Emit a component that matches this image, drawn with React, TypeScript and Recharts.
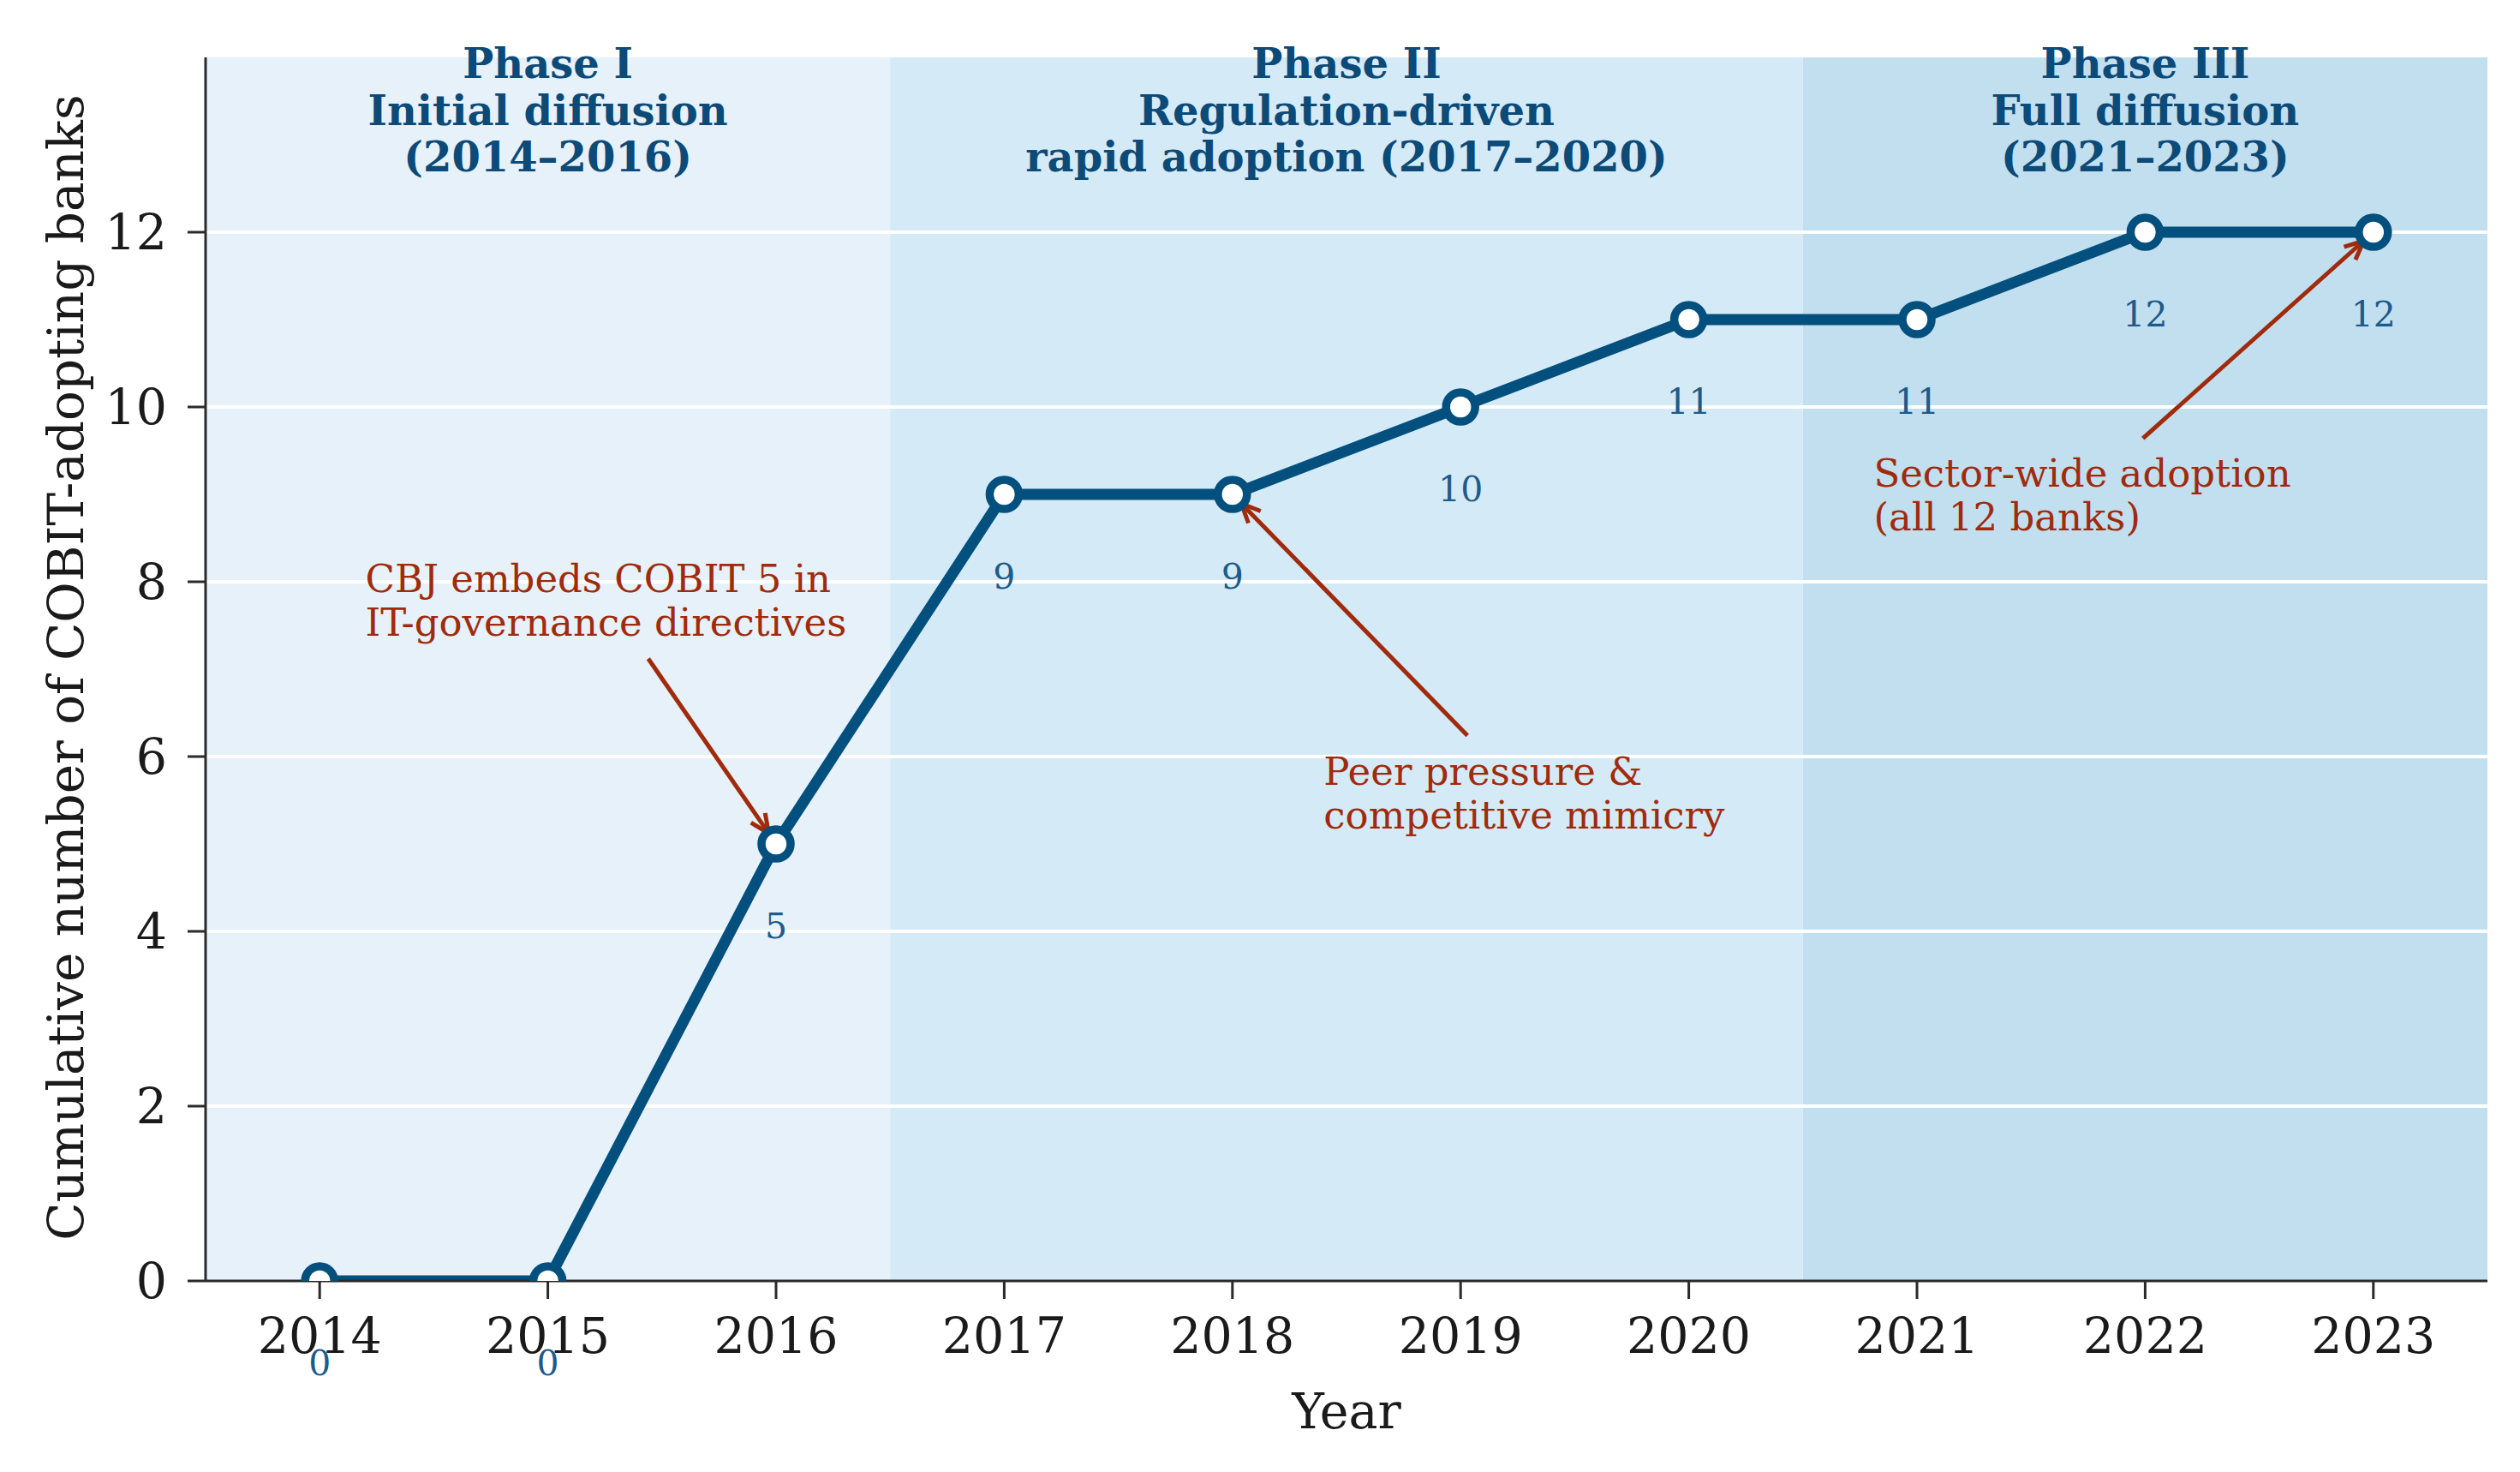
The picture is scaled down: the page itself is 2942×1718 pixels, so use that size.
import React from "react";
import {
  LineChart,
  Line,
  XAxis,
  YAxis,
  ReferenceArea,
  ReferenceLine,
  ReferenceDot,
  LabelList,
} from "recharts";

const years = [2014, 2015, 2016, 2017, 2018, 2019, 2020, 2021, 2022, 2023];
const adopters = [0, 0, 5, 9, 9, 10, 11, 11, 12, 12];
const yTicks = [0, 2, 4, 6, 8, 10, 12];
const gridValues = [2, 4, 6, 8, 10, 12];

const phaseStarts = [2013.5, 2016.5, 2020.5];
const phaseEnds = [2016.5, 2020.5, 2023.5];
const phaseTitles = [
  ["Phase I", "Initial diffusion", "(2014–2016)"],
  ["Phase II", "Regulation-driven", "rapid adoption (2017–2020)"],
  ["Phase III", "Full diffusion", "(2021–2023)"],
];
const phaseFills = ["#e6f1fa", "#d5eaf7", "#c2dff0"];

// annotation text anchor (left edge, first line), arrow tail and the point it targets
const notes = [
  {
    lines: ["CBJ embeds COBIT 5 in", "IT-governance directives"],
    textAt: [2014.2, 8.04],
    tail: [2015.44, 7.12],
    head: [2016, 5],
  },
  {
    lines: ["Peer pressure &", "competitive mimicry"],
    textAt: [2018.4, 5.83],
    tail: [2019.03, 6.24],
    head: [2018, 9],
  },
  {
    lines: ["Sector-wide adoption", "(all 12 banks)"],
    textAt: [2020.81, 9.25],
    tail: [2021.99, 9.64],
    head: [2023, 12],
  },
];

const data = years.map((year, i) => ({ year, adopters: adopters[i] }));

const W = 2942;
const H = 1718;
const FONT = "'DejaVu Serif', serif";
const LINE = "#03507f";
const NOTE = "#a02b0c";
const PLOT_LEFT = 240;
const PLOT_RIGHT = 2904;
const PLOT_TOP = 67;
const PLOT_BOTTOM = 1495;

// the line and its markers are clipped to the axes box, like the original
const clipCss = `
path.recharts-line-curve { clip-path: url(#plot-box); }
`;

const Arrow = (props: any) => {
  const { x1, y1, x2, y2 } = props;
  const dx = x2 - x1;
  const dy = y2 - y1;
  const len = Math.hypot(dx, dy) || 1;
  const ux = dx / len;
  const uy = dy / len;
  const ex = x2 - ux * 15;
  const ey = y2 - uy * 15;
  const hl = 22;
  const hw = 10;
  const bx = ex - ux * hl;
  const by = ey - uy * hl;
  return (
    <g>
      <line x1={x1} y1={y1} x2={ex} y2={ey} stroke={NOTE} strokeWidth={5} />
      <polyline
        points={`${bx - uy * hw},${by + ux * hw} ${ex},${ey} ${bx + uy * hw},${by - ux * hw}`}
        fill="none"
        stroke={NOTE}
        strokeWidth={5}
      />
    </g>
  );
};

const Marker = (p: any) => (
  <g key={`m${p.index}`} clipPath="url(#plot-box)">
    <circle cx={p.cx} cy={p.cy} r={17} fill="#ffffff" stroke={LINE} strokeWidth={9.5} />
  </g>
);

const noteText = (lines: string[]) => (p: any) => (
  <text
    x={p.cx}
    y={p.cy}
    fill={NOTE}
    fontSize={45}
    fontFamily={FONT}
    dominantBaseline="central"
  >
    {lines.map((l, i) => (
      <tspan key={i} x={p.cx} dy={i === 0 ? 0 : 51}>
        {l}
      </tspan>
    ))}
  </text>
);

const phaseText = (lines: string[]) => (p: any) => (
  <text
    x={p.cx}
    y={p.cy + 7}
    fill="#0c4a78"
    fontSize={48}
    fontWeight="bold"
    fontFamily={FONT}
    textAnchor="middle"
    dominantBaseline="central"
  >
    {lines.map((l, i) => (
      <tspan key={i} x={p.cx} dy={i === 0 ? 0 : 54.5}>
        {l}
      </tspan>
    ))}
  </text>
);

const valueLabel = (p: any) => (
  <text
    x={p.x}
    y={p.y + 96}
    fill="#1d5b8a"
    fontSize={41}
    fontFamily={FONT}
    textAnchor="middle"
    dominantBaseline="central"
  >
    {p.value}
  </text>
);

export default function App() {
  return (
    <div style={{ position: "absolute", left: 0, top: 0, background: "#fff" }}>
      <style>{clipCss}</style>
      <svg width={0} height={0} style={{ position: "absolute", left: 0, top: 0 }}>
        <defs>
          <clipPath id="plot-box" clipPathUnits="userSpaceOnUse">
            <rect
              x={PLOT_LEFT}
              y={PLOT_TOP}
              width={PLOT_RIGHT - PLOT_LEFT}
              height={PLOT_BOTTOM - PLOT_TOP}
            />
          </clipPath>
        </defs>
      </svg>
      <LineChart
        width={W}
        height={H}
        data={data}
        margin={{ top: PLOT_TOP, right: W - PLOT_RIGHT, bottom: 0, left: 0 }}
      >
        <XAxis
          dataKey="year"
          type="number"
          domain={[2013.5, 2023.5]}
          allowDataOverflow
          ticks={years}
          interval={0}
          height={H - PLOT_BOTTOM}
          tickSize={21}
          tickMargin={23}
          axisLine={{ stroke: "#2a2a2a", strokeWidth: 3 }}
          tickLine={{ stroke: "#2a2a2a", strokeWidth: 3 }}
          tick={{ fill: "#1a1a1a", fontSize: 57, fontFamily: FONT }}
          label={{
            content: () => (
              <text
                x={1572}
                y={1647}
                fill="#1a1a1a"
                fontSize={57}
                fontFamily={FONT}
                textAnchor="middle"
                dominantBaseline="central"
              >
                Year
              </text>
            ),
          }}
        />
        <YAxis
          type="number"
          domain={[0, 14]}
          allowDataOverflow
          ticks={yTicks}
          interval={0}
          width={PLOT_LEFT}
          tickSize={21}
          tickMargin={24}
          axisLine={{ stroke: "#2a2a2a", strokeWidth: 3 }}
          tickLine={{ stroke: "#2a2a2a", strokeWidth: 3 }}
          tick={{ fill: "#1a1a1a", fontSize: 57, fontFamily: FONT }}
          label={{
            content: () => (
              <text
                transform={`translate(77, ${(PLOT_TOP + PLOT_BOTTOM) / 2 - 2}) rotate(-90)`}
                fill="#1a1a1a"
                fontSize={58}
                fontFamily={FONT}
                textAnchor="middle"
                dominantBaseline="central"
              >
                Cumulative number of COBIT-adopting banks
              </text>
            ),
          }}
        />
        {phaseStarts.map((s, i) => (
          <ReferenceArea
            key={`ph${i}`}
            x1={s}
            x2={phaseEnds[i]}
            y1={0}
            y2={14}
            fill={phaseFills[i]}
            fillOpacity={1}
            stroke="none"
          />
        ))}
        {gridValues.map((v) => (
          <ReferenceLine key={`g${v}`} y={v} stroke="#ffffff" strokeWidth={4} />
        ))}
        {phaseStarts.map((s, i) => (
          <ReferenceDot
            key={`pt${i}`}
            x={(s + phaseEnds[i]) / 2}
            y={14}
            r={0}
            ifOverflow="visible"
            shape={phaseText(phaseTitles[i])}
          />
        ))}
        {notes.map((n, i) => (
          <ReferenceLine
            key={`ar${i}`}
            segment={[
              { x: n.tail[0], y: n.tail[1] },
              { x: n.head[0], y: n.head[1] },
            ]}
            ifOverflow="visible"
            shape={Arrow}
          />
        ))}
        <Line
          dataKey="adopters"
          stroke={LINE}
          strokeWidth={13}
          dot={Marker}
          activeDot={false}
          isAnimationActive={false}
        >
          <LabelList dataKey="adopters" content={valueLabel} />
        </Line>
        {notes.map((n, i) => (
          <ReferenceDot
            key={`nt${i}`}
            x={n.textAt[0]}
            y={n.textAt[1]}
            r={0}
            ifOverflow="visible"
            shape={noteText(n.lines)}
          />
        ))}
      </LineChart>
    </div>
  );
}
